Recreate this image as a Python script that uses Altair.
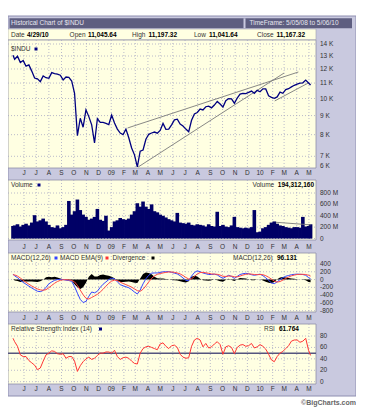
import altair as alt
import pandas as pd

# ---------------- data ----------------
dates = ([pd.Timestamp("2008-05-05")]
         + list(pd.date_range("2008-05-09", periods=104, freq="7D"))
         + [pd.Timestamp("2010-05-05")])

price = [13058,
         12745, 12986, 12480, 12638, 12209, 12307, 11843, 11347, 11288, 11100,
         11496, 11370, 11326, 11734, 11659, 11628, 11543, 11220, 11421, 11388,
         11143, 10325, 7950, 8852, 8378, 9325, 8943, 8497, 7600, 8829,
         8635, 8629, 8579, 8515, 9034, 8599, 8281, 8077, 8001, 8280,
         7850, 7366, 7062, 6560, 7224, 7278, 7776, 8018, 8083, 8131,
         8076, 8212, 8575, 8268, 8277, 8500, 8764, 8799, 8539, 8438,
         8280, 8146, 8743, 9093, 9172, 9370, 9321, 9505, 9544, 9441,
         9605, 9820, 9665, 9487, 9865, 9995, 9972, 9713, 10023, 10270,
         10318, 10309, 10388, 10471, 10329, 10520, 10428, 10618, 10610, 10173,
         10067, 10012, 10099, 10402, 10325, 10567, 10625, 10742, 10851, 10927,
         10998, 11019, 11204, 11009,
         10868]

volume_m = [220,
            230, 250, 210, 240, 260, 230, 280, 410, 300, 320,
            350, 300, 240, 200, 190, 230, 180, 200, 240, 660,
            420, 480, 685, 500, 420, 380, 330, 350, 380, 520,
            330, 310, 400, 140, 200, 300, 320, 360, 340, 330,
            350, 420, 480, 620, 560, 650, 560, 520, 600, 480,
            460, 420, 400, 370, 340, 320, 300, 450, 280, 270,
            260, 280, 240, 230, 250, 240, 230, 210, 250, 220,
            210, 470, 220, 240, 210, 200, 230, 380, 200, 190,
            180, 190, 180, 200, 500, 110, 120, 180, 200, 240,
            280, 300, 260, 230, 220, 200, 190, 180, 200, 200,
            190, 380, 210, 220,
            250]

macd = [140,
        95, 50, -20, -70, -120, -170, -215, -260, -300, -310,
        -280, -200, -110, -60, -20, 0, 5, 0, -15, -25,
        -45, -180, -350, -510, -590, -560, -430, -320, -340, -300,
        -200, -120, -60, 0, 35, 20, -60, -130, -160, -185,
        -210, -260, -320, -370, -270, -110, 20, 110, 165, 170,
        170, 180, 200, 200, 205, 185, 165, 145, 100, 40,
        -20, -30, 90, 180, 225, 200, 170, 150, 130, 130,
        140, 120, 70, 30, 70, 110, 80, 30, 80, 130,
        150, 160, 150, 125, 110, 125, 140, 100, 45, -20,
        -85, -105, -60, 0, 50, 85, 105, 125, 135, 140,
        135, 130, 110, 50,
        20]

macd_ema = [125,
            120, 90, 40, -20, -70, -120, -165, -205, -240, -265,
            -275, -260, -210, -150, -95, -50, -20, -5, -5, -10,
            -20, -60, -150, -270, -390, -480, -500, -460, -420, -380,
            -320, -250, -170, -95, -40, -15, -25, -65, -100, -130,
            -160, -195, -240, -285, -300, -250, -160, -60, 30, 95,
            135, 155, 170, 185, 195, 195, 185, 170, 145, 105,
            55, 15, 20, 80, 145, 180, 185, 175, 160, 145,
            140, 135, 115, 85, 80, 90, 90, 70, 70, 90,
            115, 135, 145, 140, 130, 125, 130, 125, 100, 60,
            10, -40, -65, -50, -15, 30, 65, 95, 115, 130,
            135, 135, 130, 110,
            90]

divergence = [15,
              -25, -40, -60, -50, -50, -50, -50, -55, -60, -45,
              -5, 60, 70, 60, 75, 50, 25, 5, -10, -15,
              -25, -120, -200, -240, -200, -80, 70, 140, 80, 80,
              120, 130, 110, 95, 75, 35, -35, -65, -60, -55,
              -50, -65, -80, -85, 30, 140, 180, 170, 135, 75,
              35, 25, 30, 15, 10, -10, -20, -25, -45, -65,
              -75, -45, 70, 100, 80, 20, -15, -25, -30, -15,
              0, -15, -45, -55, -10, 20, -10, -40, 10, 40,
              35, 25, 5, -15, -20, 0, 10, -25, -55, -80,
              -95, -65, 5, 50, 65, 55, 40, 30, 20, 10,
              0, -5, -20, -60,
              -70]

rsi = [76,
       70, 62, 47, 44, 44, 37, 33, 29, 21, 24,
       36, 47, 50, 54, 53, 49, 48, 49, 41, 44,
       44, 36, 18, 28, 35, 40, 43, 39, 41, 46,
       50, 50, 52, 52, 50, 55, 44, 39, 42, 43,
       41, 36, 32, 31, 50, 58, 61, 62, 60, 58,
       56, 66, 68, 62, 58, 63, 64, 60, 48, 43,
       41, 42, 62, 73, 76, 73, 61, 67, 59, 61,
       66, 70, 65, 48, 61, 63, 60, 49, 60, 64,
       65, 62, 63, 67, 59, 61, 65, 62, 57, 48,
       38, 35, 44, 50, 53, 58, 63, 71, 73, 73,
       69, 71, 76, 55,
       46]

month_starts = pd.date_range("2008-06-01", periods=24, freq="MS")
month_labels = ["J", "J", "A", "S", "O", "N", "D", "09", "F", "M", "A", "M",
                "J", "J", "A", "S", "O", "N", "D", "10", "F", "M", "A", "M"]

price_ticks = [14000, 13000, 12000, 11000, 10000, 9000, 8000, 7000]
price_tick_labels = ["14 K", "13 K", "12 K", "11 K", "10 K", "9 K", "8 K", "7 K"]
vol_ticks = [800, 600, 400, 200, 0]
vol_tick_labels = ["800 M", "600 M", "400 M", "200 M", "0"]
macd_ticks = [400, 200, 0, -200, -400, -600, -800]
macd_tick_labels = ["400", "200", "0", "-200", "-400", "-600", "-800"]
rsi_ticks = [80, 60, 40, 20, 0]
rsi_tick_labels = ["80", "60", "40", "20", "0"]

trend_id = ["a", "a", "b", "b", "c", "c"]
trend_date = ["2009-02-10", "2010-04-05", "2009-03-08", "2010-03-01", "2010-02-06", "2010-04-29"]
trend_price = [8336, 11777, 6552, 11706, 9850, 11000]
vol_trend_date = ["2010-02-09", "2010-05-05"]
vol_trend_value = [285, 240]

# ---------------- tables ----------------
df = pd.DataFrame({"date": dates, "price": price, "vol": volume_m, "macd": macd,
                   "ema": macd_ema, "div": divergence, "rsi": rsi})
months = pd.DataFrame({"m": month_starts, "lab": month_labels})
trend = pd.DataFrame({"id": trend_id, "date": pd.to_datetime(trend_date), "price": trend_price})
vtrend = pd.DataFrame({"date": pd.to_datetime(vol_trend_date), "vol": vol_trend_value})
one = pd.DataFrame({"k": [0]})

# ---------------- styling ----------------
FONT = "Arial"
W = 308
FRAME = "#C9C9DF"
PANEL = "#FFFFE2"
GRID = "#A8A8C4"
TXT = "#333333"

xscale = alt.Scale(domain=[alt.DateTime(year=2008, month=5, date=5),
                           alt.DateTime(year=2010, month=5, date=6)], range=[0, W])
X = alt.X("date:T", scale=xscale, axis=None)
XM = alt.X("m:T", scale=xscale, axis=None)

pscale = alt.Scale(type="log", domain=[6500, 14000], range=[160.3, 36], nice=False, zero=False)
vscale = alt.Scale(domain=[0, 800], range=[230.5, 185], nice=False, zero=False)
mscale = alt.Scale(domain=[-800, 400], range=[302.7, 256], nice=False, zero=False)
rscale = alt.Scale(domain=[0, 80], range=[373.7, 328], nice=False, zero=False)


def box(x1, x2, y1, y2, fill, stroke=None, sw=1.0):
    kw = {"fill": fill}
    if stroke:
        kw.update(stroke=stroke, strokeWidth=sw)
    else:
        kw.update(strokeWidth=0)
    return alt.Chart(one).mark_rect(**kw).encode(
        x=alt.value(x1), x2=alt.value(x2), y=alt.value(y1), y2=alt.value(y2))


def label(x, y, s, size=6.5, bold=False, color=TXT, align="left"):
    return alt.Chart(one).mark_text(
        text=s, font=FONT, fontSize=size, fontWeight="bold" if bold else "normal",
        color=color, align=align, baseline="middle").encode(x=alt.value(x), y=alt.value(y))


def square(x, y, color):
    return box(x, x + 3, y - 1.5, y + 1.5, color)


def vgrid(top, bottom):
    return alt.Chart(months).mark_rule(color=GRID, strokeDash=[1, 2], strokeWidth=0.8).encode(
        x=XM, y=alt.value(top), y2=alt.value(bottom))


def hgrid(vals, scale):
    return alt.Chart(pd.DataFrame({"v": vals})).mark_rule(
        color=GRID, strokeDash=[1, 2], strokeWidth=0.8).encode(
        y=alt.Y("v:Q", scale=scale, axis=None), x=alt.value(0), x2=alt.value(W))


def ylabels(vals, labs, scale):
    return alt.Chart(pd.DataFrame({"v": vals, "t": labs})).mark_text(
        align="left", baseline="middle", font=FONT, fontSize=6.5, color=TXT).encode(
        y=alt.Y("v:Q", scale=scale, axis=None), x=alt.value(312), text="t:N")


def mlabels(y):
    return alt.Chart(months).mark_text(
        align="center", baseline="middle", font=FONT, fontSize=6.5, color=TXT).encode(
        x=XM, y=alt.value(y), text="lab:N")


layers = []
# frame, title bar, info row, panels
layers.append(box(0, 348, 8, 388, FRAME, stroke="#8E8EB0", sw=1))
layers.append(box(1.5, 344, 10.3, 20.3, "#5E5E80"))
layers.append(box(235.5, 237.5, 10.3, 20.3, FRAME))
layers.append(box(0, W, 21, 32, PANEL, stroke="#A0A0B0", sw=0.6))
panels = [(32, 160), (172, 232), (245, 304), (316, 376)]
for top, bottom in panels:
    layers.append(box(0, W, top, bottom, PANEL, stroke="#9090A8", sw=0.8))
    layers.append(vgrid(top, bottom))

layers.append(hgrid(price_ticks, pscale))
layers.append(hgrid(vol_ticks, vscale))
layers.append(hgrid(macd_ticks, mscale))
layers.append(hgrid(rsi_ticks, rscale))

# price
layers.append(alt.Chart(trend).mark_line(color="#7A7A7A", strokeWidth=0.9).encode(
    x=X, y=alt.Y("price:Q", scale=pscale, axis=None), detail="id:N"))
layers.append(alt.Chart(df).mark_line(color="#000080", strokeWidth=1.3).encode(
    x=X, y=alt.Y("price:Q", scale=pscale, axis=None)))

# volume
layers.append(alt.Chart(df).mark_bar(color="#000066", size=3.6).encode(
    x=X, y=alt.Y("vol:Q", scale=vscale, axis=None)))
layers.append(alt.Chart(vtrend).mark_line(color="#7A7A7A", strokeWidth=0.9).encode(
    x=X, y=alt.Y("vol:Q", scale=vscale, axis=None)))

# MACD
layers.append(alt.Chart(df).mark_area(color="#000000").encode(
    x=X, y=alt.Y("div:Q", scale=mscale, axis=None)))
layers.append(alt.Chart(df).mark_line(color="#3344FF", strokeWidth=1).encode(
    x=X, y=alt.Y("macd:Q", scale=mscale, axis=None)))
layers.append(alt.Chart(df).mark_line(color="#FF4444", strokeWidth=1).encode(
    x=X, y=alt.Y("ema:Q", scale=mscale, axis=None)))

# RSI
layers.append(alt.Chart(pd.DataFrame({"v": [50]})).mark_rule(color="#55557F", strokeWidth=1.5).encode(
    y=alt.Y("v:Q", scale=rscale, axis=None), x=alt.value(0), x2=alt.value(W)))
layers.append(alt.Chart(df).mark_line(color="#FF3333", strokeWidth=1).encode(
    x=X, y=alt.Y("rsi:Q", scale=rscale, axis=None)))

# axis labels
layers.append(ylabels(price_ticks, price_tick_labels, pscale))
layers.append(label(312, 158, "6 K"))
layers.append(ylabels(vol_ticks, vol_tick_labels, vscale))
layers.append(ylabels(macd_ticks, macd_tick_labels, mscale))
layers.append(ylabels(rsi_ticks, rsi_tick_labels, rscale))
for y in [165, 238.5, 309.5, 381]:
    layers.append(mlabels(y))

# texts
layers.append(label(3, 15.3, "Historical Chart of $INDU", color="#E6E6F0"))
layers.append(label(241.5, 15.3, "TimeFrame:  5/05/08 to  5/06/10", color="#E6E6F0"))
info = [(3, "Date", False), (19, "4/29/10", True), (61.6, "Open", False), (80, "11,045.64", True),
        (124, "High", False), (140.5, "11,197.32", True), (186, "Low", False), (201, "11,041.64", True),
        (249, "Close", False), (268.5, "11,167.32", True)]
for x, s, b in info:
    layers.append(label(x, 26.5, s, bold=b, color="#000000" if b else TXT))

layers.append(label(3, 41, "$INDU"))
layers.append(square(26.5, 41, "#000080"))

layers.append(label(3, 177, "Volume"))
layers.append(square(29.5, 177, "#000080"))
layers.append(label(244.5, 177, "Volume"))
layers.append(label(306, 177, "194,312,160", bold=True, color="#000000", align="right"))

layers.append(label(3, 250, "MACD(12,26)"))
layers.append(square(46.5, 250, "#3344FF"))
layers.append(label(52, 250, "MACD EMA(9)"))
layers.append(square(97.5, 250, "#FF3333"))
layers.append(label(104.5, 250, "Divergence"))
layers.append(square(143.5, 250, "#000000"))
layers.append(label(225, 250, "MACD(12,26)"))
layers.append(label(269, 250, "96.131", bold=True, color="#000000"))

layers.append(label(3, 321, "Relative Strength Index (14)"))
layers.append(square(91, 321, "#000080"))
layers.append(label(256, 321, "RSI"))
layers.append(label(271, 321, "61.764", bold=True, color="#000000"))

layers.append(label(348, 395, "\u00a9BigCharts.com", size=7, bold=True, color="#666666", align="right"))

chart = alt.layer(*layers).resolve_scale(y="independent").properties(
    width=348, height=400, padding=0, autosize="none", background="white"
).configure_view(stroke=None)

chart.save("out.html", embed_options={"renderer": "svg", "actions": False})
